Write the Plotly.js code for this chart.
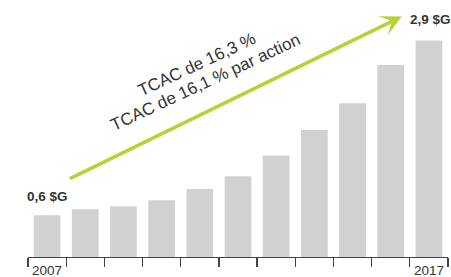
<!DOCTYPE html>
<html>
<head>
<meta charset="utf-8">
<script src="https://cdn.plot.ly/plotly-3.0.1.min.js"></script>
<style>html,body{margin:0;padding:0;background:#fff;}#chart{width:451px;height:277px;}</style>
</head>
<body>
<div id="chart"></div>
<script>
// Data (values in $G)
var years = ['2007','2008','2009','2010','2011','2012','2013','2014','2015','2016','2017'];
var values = [0.56, 0.64, 0.68, 0.76, 0.91, 1.08, 1.36, 1.70, 2.06, 2.57, 2.90];
var tickLabels = ['2007','','','','','','','','','','2017'];
var startLabel = '0,6 $G';
var endLabel = '2,9 $G';
var cagrLines = ['TCAC de 16,3 %', 'TCAC de 16,1 % par action'];

var textCol = '#333333';
var font = 'Liberation Sans, Arial, sans-serif';

var trace = {
  type: 'bar',
  x: years,
  y: values,
  marker: {color: '#d1d1d1', line: {width: 0}},
  width: 0.7,
  hoverinfo: 'none'
};

var n = years.length;
var layout = {
  width: 451, height: 277,
  margin: {l: 28, r: 3, t: 18, b: 20, pad: 0},
  paper_bgcolor: '#fff', plot_bgcolor: '#fff',
  showlegend: false,
  font: {family: font, color: textCol},
  xaxis: {
    type: 'category',
    tickmode: 'array', tickvals: years, ticktext: tickLabels,
    tickson: 'boundaries', tickangle: 0,
    ticks: 'outside', ticklen: 9, tickwidth: 1.3, tickcolor: '#444',
    showline: true, linecolor: '#444', linewidth: 1.3,
    showgrid: false, zeroline: false,
    tickfont: {size: 13.5, color: textCol, family: font},
    ticklabelstandoff: 0,
    range: [-0.5, n - 0.5], fixedrange: true
  },
  yaxis: {
    range: [0, 3.2], visible: false, showgrid: false, zeroline: false, fixedrange: true
  },
  annotations: [
    {x: 0, y: values[0], xref: 'x', yref: 'y', text: '<b>' + startLabel + '</b>',
     showarrow: false, xanchor: 'center', yanchor: 'bottom', xshift: 0, yshift: 9,
     font: {size: 13.5, color: textCol, family: font}},
    {x: n - 1, y: values[n-1], xref: 'x', yref: 'y', text: '<b>' + endLabel + '</b>',
     showarrow: false, xanchor: 'center', yanchor: 'bottom', xshift: 2, yshift: 11,
     font: {size: 13.5, color: textCol, family: font}},
    // growth arrow from first bar to last bar
    {x: 9.29, y: 3.22, ax: 0.56, ay: 1.04, xref: 'x', yref: 'y', axref: 'x', ayref: 'y',
     text: '', showarrow: true, arrowhead: 3, arrowsize: 1, arrowwidth: 3.5,
     arrowcolor: '#b5d334', standoff: 0, startstandoff: 0},
    {x: 3.93, y: 2.58, xref: 'x', yref: 'y', text: cagrLines[0], showarrow: false,
     textangle: -25, xanchor: 'center', yanchor: 'middle',
     font: {size: 17, color: textCol, family: font}},
    {x: 4.14, y: 2.34, xref: 'x', yref: 'y', text: cagrLines[1], showarrow: false,
     textangle: -25, xanchor: 'center', yanchor: 'middle',
     font: {size: 17, color: textCol, family: font}}
  ]
};

Plotly.newPlot('chart', [trace], layout, {displayModeBar: false, staticPlot: true});
</script>
</body>
</html>
